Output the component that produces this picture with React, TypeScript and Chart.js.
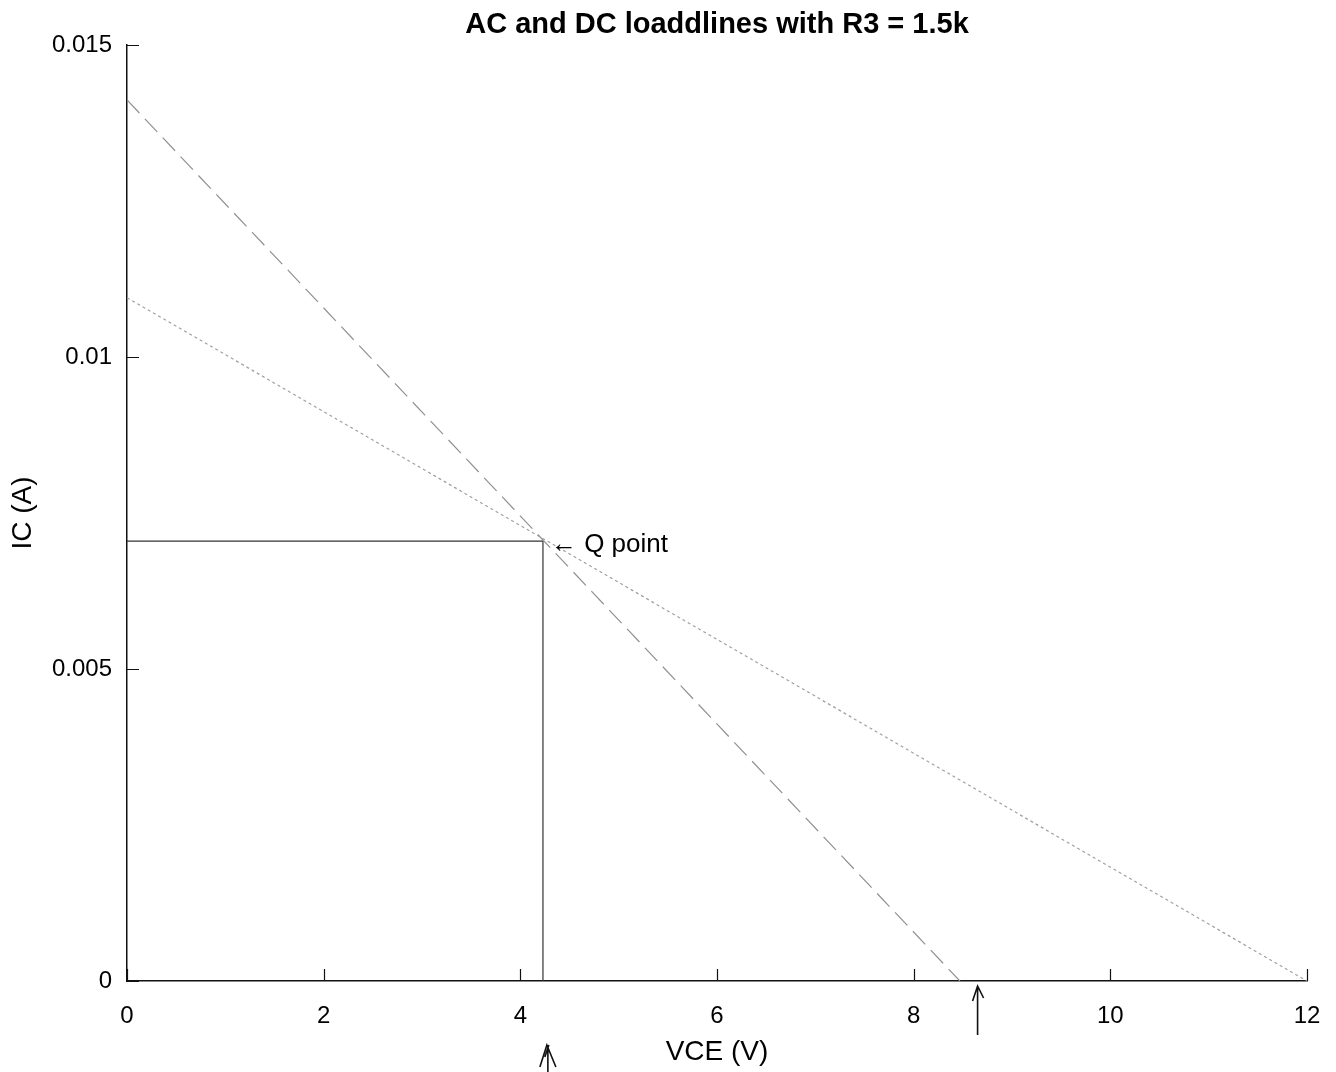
import React, { useEffect, useRef } from 'react';
import { Chart, registerables } from 'chart.js';

Chart.register(...registerables);

const TITLE = 'AC and DC loaddlines with R3 = 1.5k';
const X_LABEL = 'VCE (V)';
const Y_LABEL = 'IC (A)';
const X_TICKS = [0, 2, 4, 6, 8, 10, 12];
const Y_TICKS = [0, 0.005, 0.01, 0.015];
const Y_TICK_LABELS = ['0', '0.005', '0.01', '0.015'];

// DC load line (dotted)
const DC_VCE = [0, 12];
const DC_IC = [0.01095, 0];
// AC load line (dashed)
const AC_VCE = [0, 8.47];
const AC_IC = [0.01412, 0];
// Q point guide lines
const Q_VCE = [0, 4.23, 4.23];
const Q_IC = [0.00705, 0.00705, 0];
const Q_POINT_VCE = 4.23;
const Q_POINT_IC = 0.00705;
const Q_LABEL = '\u2190 Q point';
// hand-drawn arrows under the axis
const MARK_VCE = [4.28, 8.65];

const FONT = "'Liberation Sans', Arial, Helvetica, sans-serif";

const toPts = (xs: number[], ys: number[]) => xs.map((x, i) => ({ x, y: ys[i] }));

const decorPlugin = {
  id: 'decor',
  afterDraw(chart: any) {
    const ctx = chart.ctx;
    const xs = chart.scales.x;
    const ys = chart.scales.y;
    const area = chart.chartArea;
    ctx.save();
    // inward ticks
    ctx.strokeStyle = '#111';
    ctx.lineWidth = 1.2;
    ctx.beginPath();
    X_TICKS.forEach((v) => {
      const px = Math.round(xs.getPixelForValue(v)) + 0.5;
      ctx.moveTo(px, area.bottom);
      ctx.lineTo(px, area.bottom - 12);
    });
    Y_TICKS.forEach((v) => {
      const py = Math.round(ys.getPixelForValue(v)) + 0.5;
      ctx.moveTo(area.left, py);
      ctx.lineTo(area.left + 12, py);
    });
    ctx.stroke();

    // Q point label
    const qx = xs.getPixelForValue(Q_POINT_VCE);
    const qy = ys.getPixelForValue(Q_POINT_IC);
    ctx.fillStyle = '#000';
    ctx.font = `26px ${FONT}`;
    ctx.textAlign = 'left';
    ctx.textBaseline = 'middle';
    ctx.fillText(Q_LABEL, qx + 8, qy + 4);

    // hand-drawn arrows
    ctx.strokeStyle = '#111';
    ctx.lineWidth = 1.6;
    const a1 = xs.getPixelForValue(MARK_VCE[0]);
    ctx.beginPath();
    ctx.moveTo(a1, chart.height);
    ctx.lineTo(a1, area.bottom + 64);
    ctx.moveTo(a1 - 8, area.bottom + 86);
    ctx.lineTo(a1 - 1, area.bottom + 64);
    ctx.lineTo(a1 + 8, area.bottom + 86);
    ctx.moveTo(a1 - 3, area.bottom + 76);
    ctx.lineTo(a1 + 1, area.bottom + 64);
    ctx.stroke();
    const a2 = xs.getPixelForValue(MARK_VCE[1]);
    ctx.beginPath();
    ctx.moveTo(a2, area.bottom + 54);
    ctx.lineTo(a2, area.bottom + 6);
    ctx.moveTo(a2 - 5, area.bottom + 20);
    ctx.lineTo(a2, area.bottom + 5);
    ctx.lineTo(a2 + 6, area.bottom + 17);
    ctx.stroke();
    ctx.restore();
  },
};

export default function App() {
  const ref = useRef<HTMLCanvasElement>(null);
  useEffect(() => {
    if (!ref.current) return;
    const chart = new Chart(ref.current, {
      type: 'scatter',
      data: {
        datasets: [
          {
            label: 'DC',
            data: toPts(DC_VCE, DC_IC),
            showLine: true,
            borderColor: '#a0a0a0',
            borderWidth: 1.2,
            borderDash: [3, 3],
            pointRadius: 0,
          },
          {
            label: 'AC',
            data: toPts(AC_VCE, AC_IC),
            showLine: true,
            borderColor: '#909090',
            borderWidth: 1.2,
            borderDash: [18, 8],
            pointRadius: 0,
          },
          {
            label: 'Q',
            data: toPts(Q_VCE, Q_IC),
            showLine: true,
            borderColor: '#333',
            borderWidth: 1.2,
            pointRadius: 0,
          },
        ],
      },
      options: {
        responsive: false,
        animation: false,
        devicePixelRatio: 1,
        layout: { padding: { top: 0, left: 0, right: 29, bottom: 0 } },
        plugins: {
          legend: { display: false },
          tooltip: { enabled: false },
          title: {
            display: true,
            text: TITLE,
            fullSize: false,
            color: '#000',
            font: { family: FONT, size: 29, weight: 'bold' },
            padding: { top: 7.6, bottom: 2.6 },
          },
        },
        scales: {
          x: {
            type: 'linear',
            min: 0,
            max: 12,
            afterBuildTicks: (s: any) => {
              s.ticks = X_TICKS.map((v) => ({ value: v }));
            },
            afterFit: (s: any) => {
              s.height = 91;
              s.paddingRight = 0;
              s.paddingLeft = 0;
            },
            grid: { display: false, drawTicks: false },
            border: { display: true, color: '#111', width: 1.5 },
            ticks: {
              color: '#000',
              padding: 21,
              maxRotation: 0,
              font: { family: FONT, size: 24 },
              callback: (v: any) => String(v),
            },
            title: {
              display: true,
              text: X_LABEL,
              color: '#000',
              font: { family: FONT, size: 28 },
              padding: { top: 0, bottom: 3 },
            },
          },
          y: {
            type: 'linear',
            min: 0,
            max: 0.015,
            afterBuildTicks: (s: any) => {
              s.ticks = Y_TICKS.map((v) => ({ value: v }));
            },
            afterFit: (s: any) => {
              s.width = 127;
            },
            grid: { display: false, drawTicks: false },
            border: { display: true, color: '#111', width: 1.5 },
            ticks: {
              color: '#000',
              padding: 15,
              font: { family: FONT, size: 24 },
              callback: (v: any) => {
                const i = Y_TICKS.findIndex((t) => Math.abs(t - v) < 1e-9);
                return i >= 0 ? Y_TICK_LABELS[i] : '';
              },
            },
            title: {
              display: true,
              text: Y_LABEL,
              color: '#000',
              font: { family: FONT, size: 28 },
              padding: { top: 6, bottom: 0 },
            },
          },
        },
      },
      plugins: [decorPlugin],
    });
    return () => chart.destroy();
  }, []);
  return (
    <div style={{ position: 'absolute', left: 0, top: 0, width: 1336, height: 1072, background: '#fff' }}>
      <canvas ref={ref} width={1336} height={1072} style={{ display: 'block' }} />
    </div>
  );
}
